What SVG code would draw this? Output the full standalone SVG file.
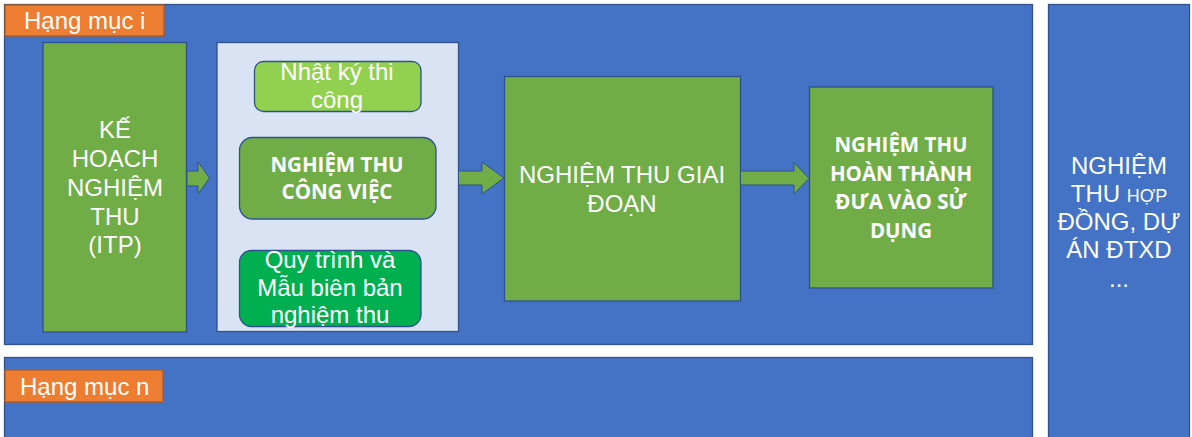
<svg xmlns="http://www.w3.org/2000/svg" width="1192" height="437" viewBox="0 0 1192 437">
<style>
.bg{fill:#4472c4;stroke:#2f528f;stroke-width:1.3}
.tag{fill:#ed7d31;stroke:#ae5a21;stroke-width:1.3}
.gbox{fill:#70ad47;stroke:#2f528f;stroke-width:1.3}
.panel{fill:#dae3f3;stroke:#2f528f;stroke-width:1.3}
.arrow{fill:#70ad47;stroke:#2f528f;stroke-width:1}
.t{font-family:"Liberation Sans",Arial,sans-serif;font-size:24px;fill:#ffffff;text-anchor:middle}
.tl{font-family:"Liberation Sans",Arial,sans-serif;font-size:24px;fill:#ffffff}
.b{font-family:"Open Sans","Liberation Sans",sans-serif;font-size:20.5px;font-weight:bold;fill:#ffffff;text-anchor:middle}
</style>
<g id="hang-muc-i">
<rect class="bg" x="4.5" y="4.5" width="1028" height="340"/>
<rect class="tag" x="5" y="5" width="159" height="31"/>
<text class="tl" x="24" y="29">Hạng mục i</text>
</g>
<g id="hang-muc-n">
<rect class="bg" x="4.5" y="357.5" width="1028" height="85"/>
<rect class="tag" x="5" y="370" width="158" height="32"/>
<text class="tl" x="20" y="395">Hạng mục n</text>
</g>
<g id="nghiem-thu-hop-dong">
<rect class="bg" x="1048.5" y="4.5" width="141" height="440"/>
<text class="t" x="1119" y="174">NGHIỆM</text>
<text class="t" x="1119" y="202">THU <tspan font-size="18">HỢP</tspan></text>
<text class="t" x="1119" y="230">ĐỒNG, DỰ</text>
<text class="t" x="1119" y="258">ÁN ĐTXD</text>
<text class="t" x="1119" y="287">...</text>
</g>
<g id="ke-hoach">
<rect class="gbox" x="43" y="42.5" width="143.5" height="289.5"/>
<text class="t" x="115" y="138">KẾ</text>
<text class="t" x="115" y="167">HOẠCH</text>
<text class="t" x="115" y="196">NGHIỆM</text>
<text class="t" x="115" y="225">THU</text>
<text class="t" x="115" y="253">(ITP)</text>
</g>
<g id="panel">
<rect class="panel" x="217" y="42.5" width="241.5" height="289"/>
</g>
<g id="nhat-ky">
<rect x="254.5" y="61.5" width="166.5" height="50" rx="9" fill="#92d050" stroke="#2f528f" stroke-width="1.3"/>
<text class="t" x="337" y="80">Nhật ký thi</text>
<text class="t" x="337" y="108">công</text>
</g>
<g id="nghiem-thu-cong-viec">
<rect x="239.5" y="137.5" width="196.5" height="81.5" rx="13" fill="#70ad47" stroke="#2f528f" stroke-width="1.3"/>
<text class="b" x="337" y="172">NGHIỆM THU</text>
<text class="b" x="337" y="199">CÔNG VIỆC</text>
</g>
<g id="quy-trinh">
<rect x="239.5" y="250.5" width="181.5" height="76" rx="12" fill="#00b050" stroke="#2f528f" stroke-width="1.3"/>
<text class="t" x="330" y="268">Quy trình và</text>
<text class="t" x="330" y="296">Mẫu biên bản</text>
<text class="t" x="330" y="323">nghiệm thu</text>
</g>
<g id="nghiem-thu-giai-doan">
<rect class="gbox" x="504.5" y="76.5" width="236" height="224.5"/>
<text class="t" x="622" y="183">NGHIỆM THU GIAI</text>
<text class="t" x="622" y="212">ĐOẠN</text>
</g>
<g id="nghiem-thu-hoan-thanh">
<rect class="gbox" x="809.5" y="87" width="183.5" height="201"/>
<text class="b" x="901" y="152">NGHIỆM THU</text>
<text class="b" x="901" y="181">HOÀN THÀNH</text>
<text class="b" x="901" y="209">ĐƯA VÀO SỬ</text>
<text class="b" x="901" y="238">DỤNG</text>
</g>
<g id="connectors">
<path class="arrow" d="M187 171 H198 V162 L209.5 178 L198 194 V186 H187 Z"/>
<path class="arrow" d="M458.5 171 H482 V162 L504 178 L482 194 V185 H458.5 Z"/>
<path class="arrow" d="M740.5 171 H794 V162.5 L809 178.5 L794 194 V185 H740.5 Z"/>
</g>
</svg>
